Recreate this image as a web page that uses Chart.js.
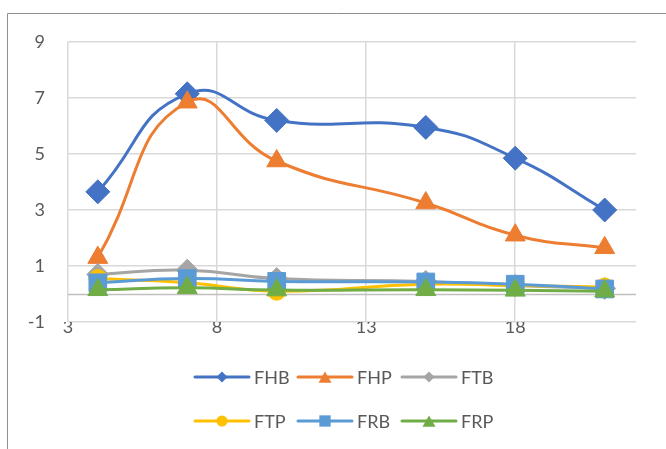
<!DOCTYPE html>
<html>
<head>
<meta charset="utf-8">
<script src="https://cdn.jsdelivr.net/npm/chart.js@4.4.1/dist/chart.umd.min.js"></script>
<style>
  html, body { margin: 0; padding: 0; background: #fff; }
  #wrap { width: 666px; height: 449px; }
</style>
</head>
<body>
<div id="wrap"><canvas id="c" width="666" height="449"></canvas></div>
<script>
// x positions shared by all series
const xValues = [4, 7, 10, 15, 18, 21];

const FHB = [3.65, 7.15, 6.2, 5.95, 4.85, 3.0];
const FHP = [1.3, 6.85, 4.75, 3.25, 2.1, 1.65];
const FTB = [0.7, 0.85, 0.55, 0.45, 0.3, 0.2];
const FTP = [0.55, 0.4, 0.1, 0.35, 0.3, 0.25];
const FRB = [0.4, 0.55, 0.45, 0.43, 0.35, 0.18];
const FRP = [0.15, 0.22, 0.14, 0.15, 0.13, 0.1];

const xTicks = [3, 8, 13, 18];
const yTicks = [-1, 1, 3, 5, 7, 9];

const FONT = "Lato, 'Liberation Sans', sans-serif";
const TXT = "#595959";

function series(label, values, color, style, r, order) {
  return {
    label: label,
    data: xValues.map((x, i) => ({ x: x, y: values[i] })),
    borderColor: color,
    backgroundColor: color,
    borderWidth: 3,
    pointStyle: style,
    pointRadius: r,
    pointBorderWidth: 1,
    pointBackgroundColor: color,
    pointBorderColor: color,
    tension: 0.5,
    order: order
  };
}

// frame, x axis line at 0 and the two-row legend
const excelBits = {
  id: "excelBits",
  beforeDraw(chart) {
    const ctx = chart.ctx;
    ctx.save();
    ctx.strokeStyle = "#8f8f8f";
    ctx.lineWidth = 1;
    ctx.beginPath();
    ctx.moveTo(7.5, 449);
    ctx.lineTo(7.5, 13.5);
    ctx.lineTo(666, 13.5);
    ctx.stroke();
    ctx.restore();
  },
  beforeDatasetsDraw(chart) {
    const ctx = chart.ctx, a = chart.chartArea;
    const y0 = Math.round(chart.scales.y.getPixelForValue(0)) + 0.5;
    ctx.save();
    ctx.strokeStyle = "#bfbfbf";
    ctx.lineWidth = 1.5;
    ctx.beginPath();
    ctx.moveTo(a.left, y0);
    ctx.lineTo(a.right, y0);
    ctx.stroke();
    ctx.restore();
  },
  afterDraw(chart) {
    const ctx = chart.ctx;
    const cols = [195, 298, 402];
    const rows = [377, 421];
    const sizes = { rectRot: 5.5, triangle: 7.5, circle: 5.5, rect: 8 };
    ctx.save();
    chart.data.datasets.forEach((ds, i) => {
      const x = cols[i % 3], y = rows[Math.floor(i / 3)];
      ctx.strokeStyle = ds.borderColor;
      ctx.fillStyle = ds.borderColor;
      ctx.lineWidth = 3;
      ctx.lineCap = "round";
      ctx.beginPath();
      ctx.moveTo(x, y);
      ctx.lineTo(x + 54, y);
      ctx.stroke();
      const r = sizes[ds.pointStyle];
      const yy = ds.pointStyle === "triangle" ? y + 2 : y;
      Chart.helpers.drawPoint(ctx, { pointStyle: ds.pointStyle, radius: r, rotation: 0, borderWidth: 0 }, x + 27, yy);
      ctx.fillStyle = TXT;
      ctx.font = "18px " + FONT;
      ctx.textBaseline = "middle";
      ctx.textAlign = "left";
      ctx.fillText(ds.label, x + 59, y + 1);
    });
    ctx.restore();
  }
};

new Chart(document.getElementById("c"), {
  type: "line",
  data: {
    datasets: [
      series("FHB", FHB, "#4472C4", "rectRot", 12, 6),
      series("FHP", FHP, "#ED7D31", "triangle", 11.5, 5),
      series("FTB", FTB, "#A5A5A5", "rectRot", 11, 4),
      series("FTP", FTP, "#FFC000", "circle", 9, 3),
      series("FRB", FRB, "#5B9BD5", "rect", 12.5, 2),
      series("FRP", FRP, "#70AD47", "triangle", 11.5, 1)
    ]
  },
  options: {
    responsive: false,
    animation: false,
    layout: { padding: { left: 8, right: 30, top: 42, bottom: 107 } },
    plugins: {
      legend: { display: false },
      tooltip: { enabled: false }
    },
    scales: {
      x: {
        type: "linear",
        min: 3,
        max: 22.05,
        afterBuildTicks: s => { s.ticks = xTicks.map(v => ({ value: v })); },
        afterFit: s => { s.height = 20; },
        grid: { color: "#d9d9d9", lineWidth: 1.5, drawTicks: false },
        border: { display: false },
        ticks: { color: TXT, font: { family: FONT, size: 18 }, padding: -6, maxRotation: 0 }
      },
      y: {
        min: -1,
        max: 9,
        afterBuildTicks: s => { s.ticks = yTicks.map(v => ({ value: v })); },
        afterFit: s => { s.width = 60; },
        grid: { color: "#d9d9d9", lineWidth: 1.5, drawTicks: false },
        border: { display: false },
        ticks: { color: TXT, font: { family: FONT, size: 18 }, padding: 23 }
      }
    }
  },
  plugins: [excelBits]
});
</script>
</body>
</html>
